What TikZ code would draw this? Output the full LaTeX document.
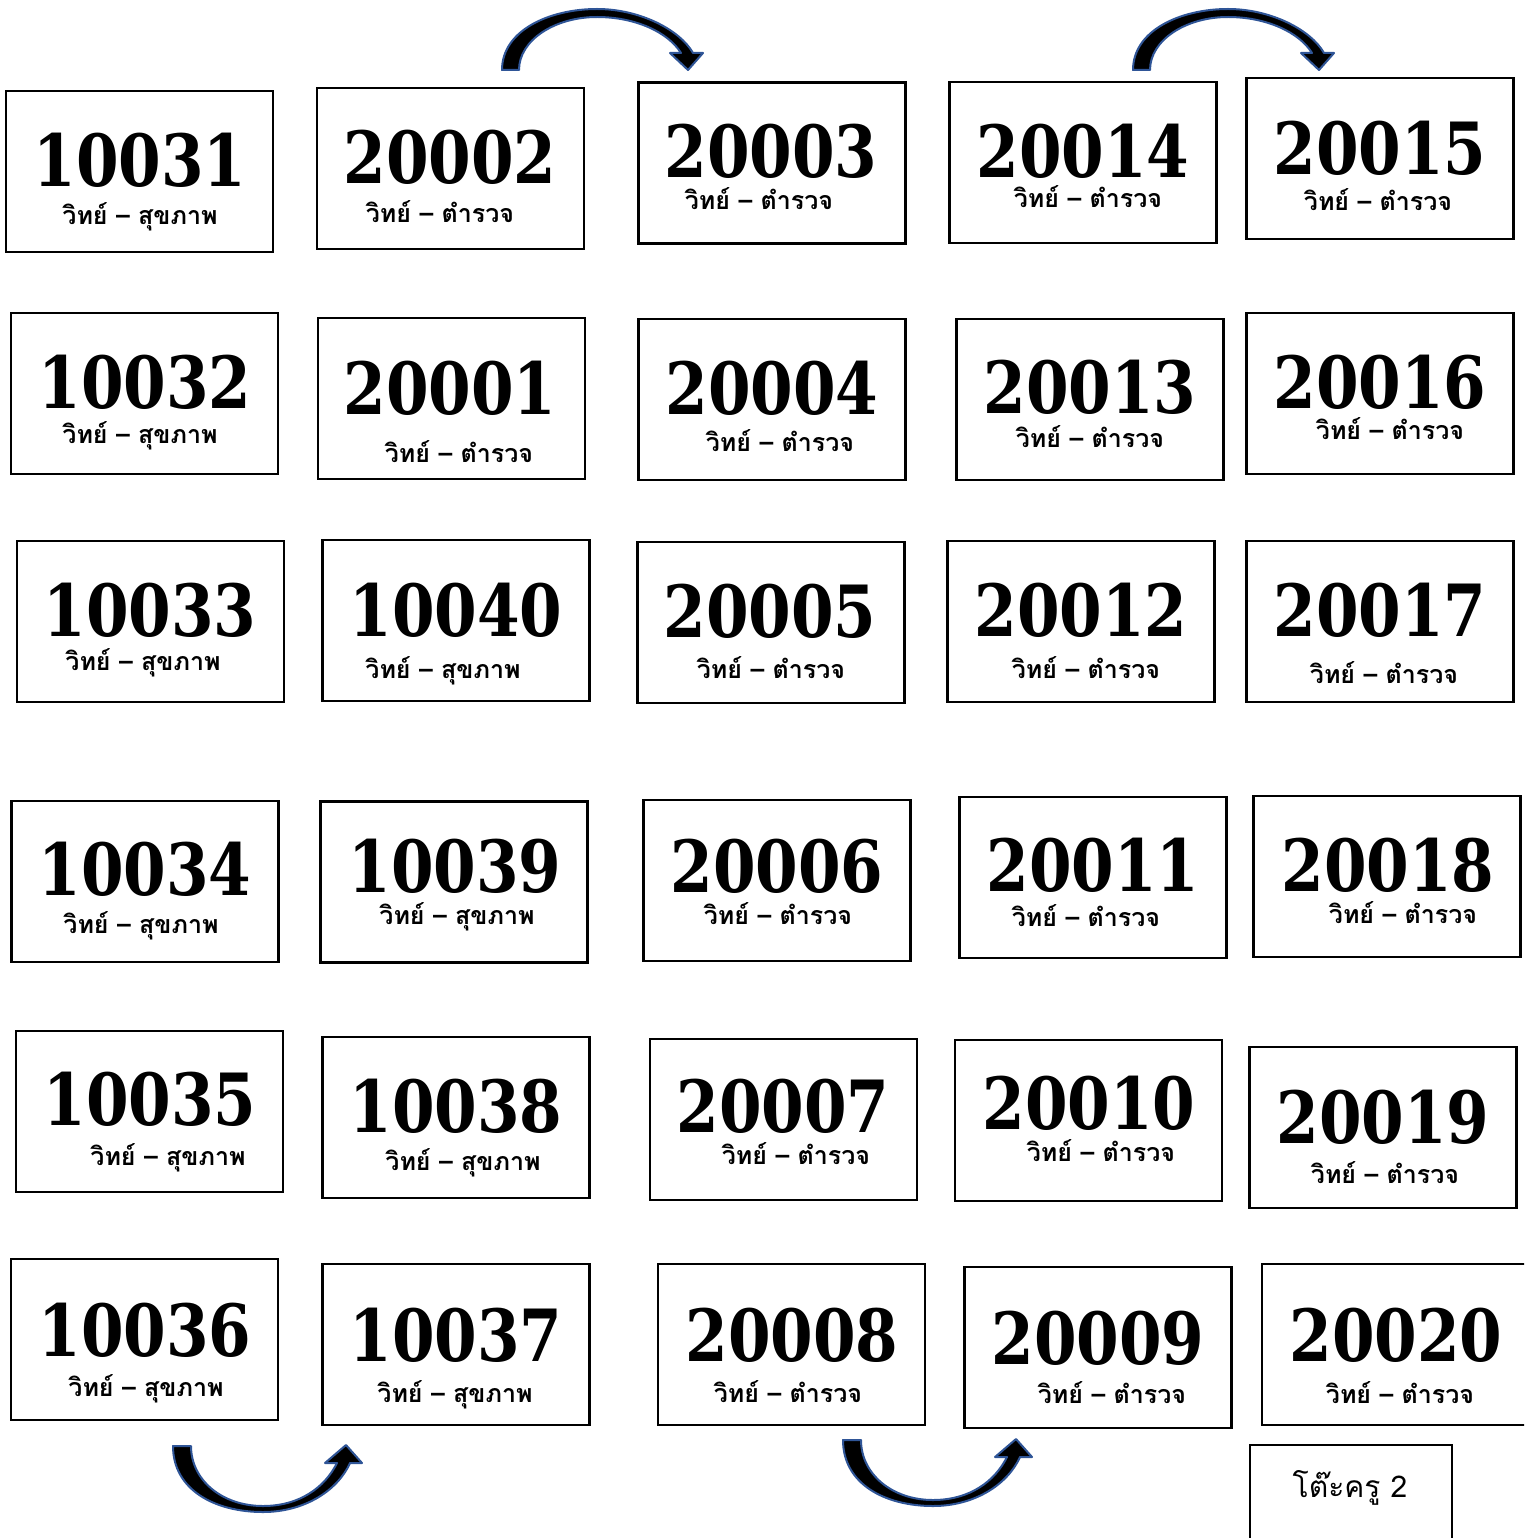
\documentclass[tikz,border=0pt]{standalone}
\usepackage{fontspec}
\usepackage{tikz}
\usetikzlibrary{positioning}
\newfontfamily\numfont{DejaVu Serif}[FakeStretch=0.85]
\newfontfamily\thaifont[Script=Thai]{Loma}
\definecolor{arrowblue}{HTML}{2F5597}

\begin{document}
\begin{tikzpicture}[x=1pt, y=-1pt,
  seat/.style = {draw, line width=2.2pt, minimum width=267pt, minimum height=161pt, inner sep=0pt},
  seatno/.style = {inner sep=0pt, font=\numfont\bfseries\fontsize{72}{72}\selectfont},
  subject/.style = {inner sep=0pt, anchor=base, text height=13pt, text depth=5pt,
    font=\thaifont\bfseries\fontsize{25}{25}\selectfont},
  desk/.style = {draw, line width=2.2pt, minimum width=202pt, minimum height=120pt},
  desktext/.style = {inner sep=0pt, font=\thaifont\fontsize{30}{30}\selectfont},
  blockarrow/.style = {fill=black, draw=arrowblue, line width=2pt, line join=round},
  overarrow/.pic = {
    \path[blockarrow] (0,0) .. controls (0,-40) and (48,-61) .. (95,-61)
      .. controls (138,-61) and (178,-40) .. (191,-17) -- (201,-17) -- (186,0)
      -- (168,-17) -- (179,-17) .. controls (166,-38) and (133,-53) .. (95,-53)
      .. controls (53,-53) and (17,-30) .. (17,0) -- cycle;
  },
  underarrow/.pic = {
    \path[blockarrow] (0,0) .. controls (0,44) and (42,66) .. (90,66)
      .. controls (132,66) and (165,44) .. (177,17) -- (189,17) -- (173,-1)
      -- (152,17) -- (164,17) .. controls (152,41) and (127,60) .. (90,60)
      .. controls (49,60) and (18,34) .. (18,0) -- cycle;
  }
]
\useasboundingbox (0,0) rectangle (1524,1538);
\clip (0,0) rectangle (1524,1538);

% row 1
\node[seat] (b10031) at (139.5,171.5) {};
\node[seatno] (n10031) at (140,160) {10031};
\node[subject] (t10031) at (140,225) {วิทย์ – สุขภาพ};
\node[seat] (b20002) at (450.5,168.5) {};
\node[seatno] (n20002) at (450,157) {20002};
\node[subject] (t20002) at (440,223) {วิทย์ – ตำรวจ};
\node[seat] (b20003) at (772,163) {};
\node[seatno] (n20003) at (771,151) {20003};
\node[subject] (t20003) at (759,210) {วิทย์ – ตำรวจ};
\node[seat] (b20014) at (1083,162.5) {};
\node[seatno] (n20014) at (1083,151) {20014};
\node[subject] (t20014) at (1088,208) {วิทย์ – ตำรวจ};
\node[seat] (b20015) at (1380,158.5) {};
\node[seatno] (n20015) at (1380,148) {20015};
\node[subject] (t20015) at (1378,211) {วิทย์ – ตำรวจ};

% row 2
\node[seat] (b10032) at (144.5,393.5) {};
\node[seatno] (n10032) at (145,382) {10032};
\node[subject] (t10032) at (140,443) {วิทย์ – สุขภาพ};
\node[seat] (b20001) at (451.5,398.5) {};
\node[seatno] (n20001) at (450,388) {20001};
\node[subject] (t20001) at (459,462) {วิทย์ – ตำรวจ};
\node[seat] (b20004) at (772,399.5) {};
\node[seatno] (n20004) at (772,388) {20004};
\node[subject] (t20004) at (780,451) {วิทย์ – ตำรวจ};
\node[seat] (b20013) at (1090,399.5) {};
\node[seatno] (n20013) at (1090,387) {20013};
\node[subject] (t20013) at (1090,447) {วิทย์ – ตำรวจ};
\node[seat] (b20016) at (1380,393.5) {};
\node[seatno] (n20016) at (1380,382) {20016};
\node[subject] (t20016) at (1390,439) {วิทย์ – ตำรวจ};

% row 3
\node[seat] (b10033) at (150.5,621.5) {};
\node[seatno] (n10033) at (150,610) {10033};
\node[subject] (t10033) at (143,670) {วิทย์ – สุขภาพ};
\node[seat] (b10040) at (456,620.5) {};
\node[seatno] (n10040) at (456,610) {10040};
\node[subject] (t10040) at (443,678) {วิทย์ – สุขภาพ};
\node[seat] (b20005) at (771,622.5) {};
\node[seatno] (n20005) at (770,611) {20005};
\node[subject] (t20005) at (771,678) {วิทย์ – ตำรวจ};
\node[seat] (b20012) at (1081,621.5) {};
\node[seatno] (n20012) at (1081,610) {20012};
\node[subject] (t20012) at (1086,678) {วิทย์ – ตำรวจ};
\node[seat] (b20017) at (1380,621.5) {};
\node[seatno] (n20017) at (1380,610) {20017};
\node[subject] (t20017) at (1384,683) {วิทย์ – ตำรวจ};

% row 4
\node[seat] (b10034) at (145,881.5) {};
\node[seatno] (n10034) at (145,869) {10034};
\node[subject] (t10034) at (141,933) {วิทย์ – สุขภาพ};
\node[seat] (b10039) at (454,882) {};
\node[seatno] (n10039) at (455,866) {10039};
\node[subject] (t10039) at (457,924) {วิทย์ – สุขภาพ};
\node[seat] (b20006) at (777,880.5) {};
\node[seatno] (n20006) at (777,866) {20006};
\node[subject] (t20006) at (778,924) {วิทย์ – ตำรวจ};
\node[seat] (b20011) at (1093,877.5) {};
\node[seatno] (n20011) at (1093,865) {20011};
\node[subject] (t20011) at (1086,926) {วิทย์ – ตำรวจ};
\node[seat] (b20018) at (1387,876.5) {};
\node[seatno] (n20018) at (1388,865) {20018};
\node[subject] (t20018) at (1403,923) {วิทย์ – ตำรวจ};

% row 5
\node[seat] (b10035) at (149.5,1111.5) {};
\node[seatno] (n10035) at (150,1099) {10035};
\node[subject] (t10035) at (168,1165) {วิทย์ – สุขภาพ};
\node[seat] (b10038) at (456,1117.5) {};
\node[seatno] (n10038) at (456,1106) {10038};
\node[subject] (t10038) at (463,1170) {วิทย์ – สุขภาพ};
\node[seat] (b20007) at (783.5,1119.5) {};
\node[seatno] (n20007) at (783,1106) {20007};
\node[subject] (t20007) at (796,1164) {วิทย์ – ตำรวจ};
\node[seat] (b20010) at (1088.5,1120.5) {};
\node[seatno] (n20010) at (1089,1103) {20010};
\node[subject] (t20010) at (1101,1161) {วิทย์ – ตำรวจ};
\node[seat] (b20019) at (1383,1127.5) {};
\node[seatno] (n20019) at (1383,1117) {20019};
\node[subject] (t20019) at (1385,1183) {วิทย์ – ตำรวจ};

% row 6
\node[seat] (b10036) at (144.5,1339.5) {};
\node[seatno] (n10036) at (145,1330) {10036};
\node[subject] (t10036) at (146,1396) {วิทย์ – สุขภาพ};
\node[seat] (b10037) at (456,1344.5) {};
\node[seatno] (n10037) at (456,1335) {10037};
\node[subject] (t10037) at (455,1402) {วิทย์ – สุขภาพ};
\node[seat] (b20008) at (791.5,1344.5) {};
\node[seatno] (n20008) at (792,1335) {20008};
\node[subject] (t20008) at (788,1402) {วิทย์ – ตำรวจ};
\node[seat] (b20009) at (1098,1347.5) {};
\node[seatno] (n20009) at (1098,1338) {20009};
\node[subject] (t20009) at (1112,1403) {วิทย์ – ตำรวจ};
\node[seat] (b20020) at (1395.5,1344.5) {};
\node[seatno] (n20020) at (1396,1335) {20020};
\node[subject] (t20020) at (1400,1403) {วิทย์ – ตำรวจ};

% teacher desk
\node[desk] (desk) at (1351,1505) {};
\node[desktext] (desklabel) at (1350,1488) {โต๊ะครู 2};

% turning arrows
\pic at (502,70) {overarrow};
\pic at (1133,70) {overarrow};
\pic at (173,1446) {underarrow};
\pic at (843,1440) {underarrow};
\end{tikzpicture}
\end{document}
